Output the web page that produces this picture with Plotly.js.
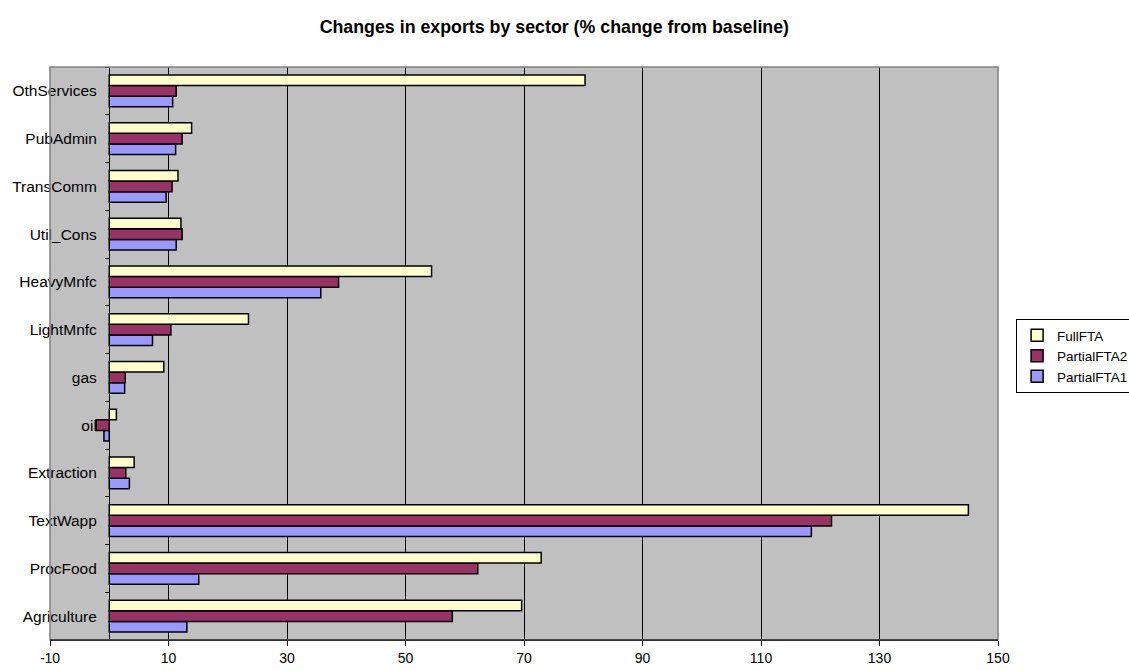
<!DOCTYPE html>
<html>
<head>
<meta charset="utf-8">
<script src="https://cdn.plot.ly/plotly-3.0.1.min.js"></script>
<style>html,body{margin:0;padding:0;background:#fff;}#chart{width:1129px;height:671px;}</style>
</head>
<body>
<div id="chart"></div>
<script>
const sectors = ["Agriculture","ProcFood","TextWapp","Extraction","oil","gas","LightMnfc","HeavyMnfc","Util_Cons","TransComm","PubAdmin","OthServices"];
const partialFTA1 = [13.1, 15.1, 118.5, 3.4, -0.9, 2.6, 7.3, 35.7, 11.3, 9.6, 11.2, 10.7];
const partialFTA2 = [57.9, 62.2, 121.9, 2.8, -2.2, 2.7, 10.4, 38.7, 12.3, 10.6, 12.3, 11.3];
const fullFTA     = [69.6, 72.9, 145.0, 4.2, 1.2, 9.2, 23.5, 54.4, 12.1, 11.6, 13.9, 80.3];
const xTicks = [-10, 10, 30, 50, 70, 90, 110, 130, 150];

const line = {color: '#000000', width: 1.5};
const traces = [
  {name: 'PartialFTA1', y: sectors, x: partialFTA1, type: 'bar', orientation: 'h', marker: {color: '#9999ff', line: line}},
  {name: 'PartialFTA2', y: sectors, x: partialFTA2, type: 'bar', orientation: 'h', marker: {color: '#993366', line: line}},
  {name: 'FullFTA', y: sectors, x: fullFTA, type: 'bar', orientation: 'h', marker: {color: '#ffffcc', line: line}}
];

const layout = {
  width: 1129, height: 671,
  margin: {l: 50, r: 131, t: 67, b: 31, pad: 0},
  paper_bgcolor: '#ffffff',
  plot_bgcolor: '#c0c0c0',
  font: {family: 'Liberation Sans, Arial, sans-serif', size: 13, color: '#000'},
  title: {text: '<b>Changes in exports by sector (% change from baseline)</b>', x: 0.491, xref: 'container', xanchor: 'center', y: 0.96, yref: 'container', yanchor: 'middle', font: {size: 17.8, color: '#000'}},
  barmode: 'group',
  bargap: 0.335,
  bargroupgap: 0,
  showlegend: true,
  legend: {traceorder: 'reversed', xref: 'container', yref: 'container', x: 0.9, xanchor: 'left', y: 0.5246, yanchor: 'top', bgcolor: '#ffffff', bordercolor: '#000000', borderwidth: 1, font: {size: 13.5}, itemwidth: 30, tracegroupgap: 0},
  xaxis: {
    range: [-10, 150], tickvals: xTicks, ticktext: xTicks.map(String),
    showgrid: true, gridcolor: '#000000', gridwidth: 1,
    zeroline: false, showline: true, linecolor: '#000000', linewidth: 1,
    ticks: 'outside', ticklen: 5, tickcolor: '#000', tickfont: {size: 14},
    fixedrange: true
  },
  yaxis: {
    type: 'category', categoryorder: 'array', categoryarray: sectors,
    anchor: 'free', position: 0.0622,
    showline: true, linecolor: '#000000', linewidth: 1,
    ticks: 'outside', ticklen: 4, tickcolor: '#000', tickson: 'boundaries',
    showgrid: false, zeroline: false, layer: 'below traces',
    tickfont: {size: 15.5}, ticklabelstandoff: 9,
    fixedrange: true
  },
  shapes: [{type: 'rect', xref: 'paper', yref: 'paper', x0: 0, x1: 1, y0: 0, y1: 1, line: {color: '#808080', width: 1.5}, layer: 'above'},
           {type: 'line', xref: 'paper', yref: 'paper', x0: 0, x1: 1, y0: 0, y1: 0, line: {color: '#000000', width: 1}, layer: 'above'}]
};

Plotly.newPlot('chart', traces, layout, {displayModeBar: false, staticPlot: true});
</script>
</body>
</html>
